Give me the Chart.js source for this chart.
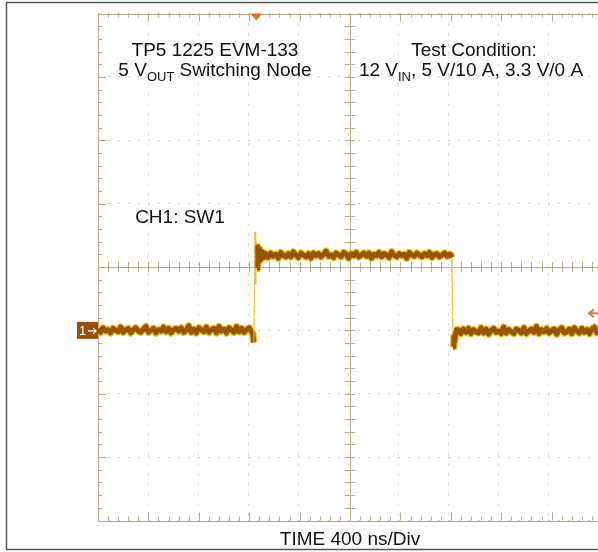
<!DOCTYPE html>
<html>
<head>
<meta charset="utf-8">
<script src="https://cdn.jsdelivr.net/npm/chart.js@4.4.1/dist/chart.umd.min.js"></script>
<style>
  html, body { margin: 0; padding: 0; background: #fff; }
  canvas { display: block; }
</style>
</head>
<body>
<canvas id="scope" width="598" height="552"></canvas>
<script>
// SW1 switching node, CH1 at 10 V/div, time base 400 ns/div
const SAMPLE_NS = 20;

// low level before the rising edge, one value every 20 ns from 0 ns
const lowBeforeVolts = [
  0.2, -0.3, 0.4, -0.1, 0.1, -0.4, 0.3, 0.0, -0.2, 0.5, -0.3, 0.1, 0.3, -0.4, 0.1, 0.4,
  -0.1, -0.3, 0.2, 0.6, -0.3, 0.0, 0.3, -0.4, 0.1, -0.1, 0.5, -0.2, 0.3, -0.4, 0.1, 0.3,
  -0.1, 0.4, -0.3, 0.0, 0.7, -0.3, 0.2, -0.4, 0.4, 0.1, -0.2, 0.5, -0.3, 0.1, 0.3, -0.4,
  0.6, -0.1, 0.2, -0.4, 0.4, 0.0, -0.3, 0.6, -0.2, 0.3, -0.3, 0.1, 0.4, -0.3
];
// rising edge with ringing
const riseTimes = [1228, 1236, 1242, 1246, 1251, 1256, 1262, 1268, 1276, 1284, 1294, 1304, 1316];
const riseVolts = [-0.5, -1.9, 5.0, 15.5, 7.3, 14.0, 9.8, 13.2, 10.8, 12.8, 11.2, 12.4, 11.5];
// high level, one value every 20 ns from 1330 ns
const highStart = 1330;
const highVolts = [
  12.1, 11.5, 12.2, 11.7, 12.0, 11.4, 12.3, 11.8, 11.6, 12.1, 11.6, 12.4, 11.9, 11.5, 12.2, 11.9,
  11.6, 12.1, 11.4, 12.2, 11.8, 12.1, 11.6, 12.0, 12.5, 11.7, 11.9, 11.5, 12.2, 11.9, 11.6, 12.3,
  12.0, 11.4, 12.1, 11.8, 12.3, 11.6, 11.9, 12.2, 11.7, 12.2, 11.4, 12.0, 11.8, 12.3, 11.6, 12.1,
  11.9, 11.5, 12.4, 11.9, 11.6, 12.1, 11.8, 12.0, 11.4, 12.3, 11.9, 11.7, 12.2, 11.9, 11.6, 12.1,
  11.8, 12.3, 11.5, 12.0, 12.1, 11.6, 11.9, 12.2, 11.7, 12.0
];
// falling edge
const fallTimes = [2800, 2808, 2814, 2818, 2824, 2830, 2838, 2846];
const fallVolts = [11.9, 11.5, 3.0, -2.6, -1.0, -1.8, -0.6, 0.1];
// low level after the falling edge, one value every 20 ns from 2860 ns
const lowAfterStart = 2860;
const lowAfterVolts = [
  0.1, -0.5, 0.2, -0.3, 0.3, -0.5, 0.1, -0.2, -0.4, 0.4, -0.4, 0.2, -0.6, 0.0, 0.3, -0.3,
  -0.1, -0.5, 0.5, -0.4, 0.1, -0.2, -0.5, 0.2, 0.0, -0.4, 0.4, -0.5, -0.1, 0.2, -0.3, 0.6,
  -0.5, 0.1, -0.2, 0.3, -0.4, 0.0, 0.2, -0.6, 0.1, 0.4, -0.4, -0.2, 0.2, -0.5, 0.4, -0.1,
  -0.4, 0.3, -0.3, 0.1, -0.5, 0.2, 0.5, -0.4, 0.0
];

const triggerTime = 1240;   // ns
const triggerLevel = 2.7;   // V
const groundLevel = 0;      // V

const sw1 = [];
lowBeforeVolts.forEach((v, i) => sw1.push({ x: i * SAMPLE_NS, y: v }));
riseTimes.forEach((t, i) => sw1.push({ x: t, y: riseVolts[i] }));
highVolts.forEach((v, i) => sw1.push({ x: highStart + i * SAMPLE_NS, y: v }));
fallTimes.forEach((t, i) => sw1.push({ x: t, y: fallVolts[i] }));
lowAfterVolts.forEach((v, i) => sw1.push({ x: lowAfterStart + i * SAMPLE_NS, y: v }));

const GRAT = '#b8ae8c';

// fast edges are only a faint trace on the scope screen
const isEdge = (c) => Math.abs(c.p1.parsed.y - c.p0.parsed.y) > 3.5;

// solid frame, centre cross and small tick marks of the graticule
const graticule = {
  id: 'graticule',
  beforeDatasetsDraw(chart) {
    const { ctx, scales: { x, y } } = chart;
    const left = x.getPixelForValue(0), right = x.getPixelForValue(4000);
    const top = y.getPixelForValue(50), bottom = y.getPixelForValue(-30);
    const cx = x.getPixelForValue(2000), cy = y.getPixelForValue(10);
    ctx.save();
    ctx.strokeStyle = GRAT;
    ctx.lineWidth = 1;
    ctx.beginPath();
    ctx.rect(Math.round(left) + 0.5, Math.round(top) + 0.5, right - left, bottom - top);
    ctx.moveTo(Math.round(cx) + 0.5, top); ctx.lineTo(Math.round(cx) + 0.5, bottom);
    ctx.moveTo(left, Math.round(cy) + 0.5); ctx.lineTo(right, Math.round(cy) + 0.5);
    for (let t = 0; t <= 4000; t += 80) {
      const px = Math.round(x.getPixelForValue(t)) + 0.5;
      const len = t % 400 === 0 ? 8 : 4;
      ctx.moveTo(px, top); ctx.lineTo(px, top + len);
      ctx.moveTo(px, bottom); ctx.lineTo(px, bottom - len);
      ctx.moveTo(px, cy - 5); ctx.lineTo(px, cy + 5);
    }
    for (let v = -30; v <= 50; v += 2) {
      const py = Math.round(y.getPixelForValue(v)) + 0.5;
      const len = v % 10 === 0 ? 8 : 4;
      ctx.moveTo(left, py); ctx.lineTo(left + len, py);
      ctx.moveTo(cx - 5, py); ctx.lineTo(cx + 5, py);
    }
    ctx.stroke();
    ctx.restore();
  }
};

function drawSub(ctx, parts, cxPos, baseline, size) {
  // parts: [text, isSub]
  const big = size + 'px "Liberation Sans", Arial, sans-serif';
  const small = Math.round(size * 0.68) + 'px "Liberation Sans", Arial, sans-serif';
  let w = 0;
  parts.forEach(([s, sub]) => { ctx.font = sub ? small : big; w += ctx.measureText(s).width; });
  let px = cxPos - w / 2;
  parts.forEach(([s, sub]) => {
    ctx.font = sub ? small : big;
    ctx.fillText(s, px, sub ? baseline + 5 : baseline);
    px += ctx.measureText(s).width;
  });
}

// labels, markers and the outer frame
const overlay = {
  id: 'overlay',
  afterDraw(chart) {
    const { ctx, scales: { x, y } } = chart;
    ctx.save();
    ctx.fillStyle = '#111';
    ctx.textAlign = 'left';
    ctx.textBaseline = 'alphabetic';
    drawSub(ctx, [['TP5 1225 EVM-133', false]], 215, 56, 19);
    drawSub(ctx, [['5 V', false], ['OUT', true], [' Switching Node', false]], 215, 76, 19);
    drawSub(ctx, [['Test Condition:', false]], 474, 56, 19);
    drawSub(ctx, [['12 V', false], ['IN', true], [', 5 V/10 A, 3.3 V/0 A', false]], 471, 76, 19);
    drawSub(ctx, [['CH1: SW1', false]], 180, 223, 19);
    drawSub(ctx, [['TIME 400 ns/Div', false]], 350, 545, 19);

    // trigger position marker
    const tx = x.getPixelForValue(triggerTime) + 2;
    const ty = chart.chartArea.top;
    ctx.fillStyle = '#f26a2a';
    ctx.beginPath();
    ctx.moveTo(tx - 6, ty); ctx.lineTo(tx + 6, ty); ctx.lineTo(tx, ty + 7);
    ctx.closePath(); ctx.fill();

    // trigger level arrow
    const ly = y.getPixelForValue(triggerLevel);
    ctx.strokeStyle = '#e07a3a';
    ctx.lineWidth = 2;
    ctx.beginPath();
    ctx.moveTo(598, ly); ctx.lineTo(590, ly);
    ctx.moveTo(594, ly - 4); ctx.lineTo(589, ly); ctx.lineTo(594, ly + 4);
    ctx.stroke();

    // channel 1 ground marker
    const gy = y.getPixelForValue(groundLevel);
    ctx.fillStyle = '#9a4f0a';
    ctx.fillRect(77, gy - 8.5, 21, 17);
    ctx.fillStyle = '#fff';
    ctx.font = '13px "Liberation Sans", Arial, sans-serif';
    ctx.fillText('1', 79, gy + 5);
    ctx.strokeStyle = '#fff';
    ctx.lineWidth = 1.2;
    ctx.beginPath();
    ctx.moveTo(88, gy + 0.5); ctx.lineTo(96, gy + 0.5);
    ctx.moveTo(93, gy - 2.5); ctx.lineTo(96, gy + 0.5); ctx.lineTo(93, gy + 3.5);
    ctx.stroke();

    // outer frame
    ctx.strokeStyle = '#555';
    ctx.lineWidth = 1.5;
    ctx.strokeRect(6.5, 2.5, 600, 547);
    ctx.restore();
  }
};

new Chart(document.getElementById('scope'), {
  type: 'line',
  data: {
    datasets: [
      {
        label: 'CH1: SW1',
        data: sw1,
        borderColor: '#9a540a',
        borderWidth: 5,
        borderJoinStyle: 'round',
        pointRadius: 0,
        tension: 0,
        order: 0,
        segment: {
          borderWidth: (c) => (isEdge(c) ? 1 : undefined),
          borderColor: (c) => (isEdge(c) ? '#e2c44a' : undefined)
        }
      },
      {
        label: 'CH1 glow',
        data: sw1,
        borderColor: '#e8c530',
        borderWidth: 7.5,
        borderJoinStyle: 'round',
        pointRadius: 0,
        tension: 0,
        order: 1,
        segment: {
          borderWidth: (c) => (isEdge(c) ? 1.5 : undefined),
          borderColor: (c) => (isEdge(c) ? 'rgba(240,215,100,0.6)' : undefined)
        }
      }
    ]
  },
  options: {
    responsive: false,
    animation: false,
    layout: { padding: { left: 98, right: 0, top: 13.5, bottom: 31.5 } },
    scales: {
      x: {
        type: 'linear',
        min: 0,
        max: 3968,
        ticks: { display: false, stepSize: 400 },
        grid: { color: '#d6cfb6', drawTicks: false, lineWidth: 1 },
        border: { display: false, dash: [2, 8] }
      },
      y: {
        type: 'linear',
        min: -30,
        max: 50,
        ticks: { display: false, stepSize: 10 },
        grid: { color: '#d6cfb6', drawTicks: false, lineWidth: 1 },
        border: { display: false, dash: [2, 8] }
      }
    },
    plugins: {
      legend: { display: false },
      tooltip: { enabled: false }
    }
  },
  plugins: [graticule, overlay]
});
</script>
</body>
</html>
